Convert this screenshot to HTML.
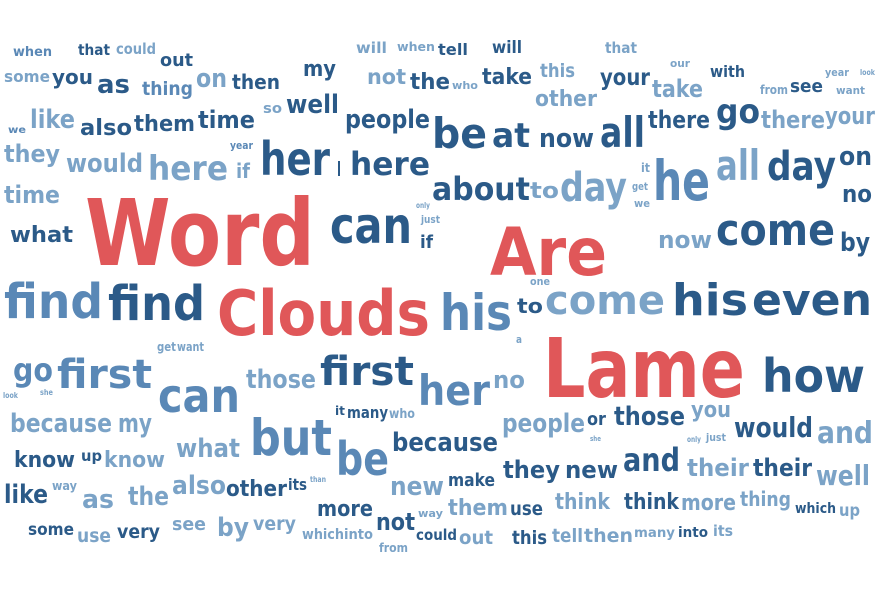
<!DOCTYPE html>
<html><head><meta charset="utf-8">
<style>
html,body{margin:0;padding:0;background:#fff;width:890px;height:605px;overflow:hidden}
svg text{font-family:"DejaVu Sans","Liberation Sans",sans-serif;font-weight:bold}
</style></head>
<body>
<svg id="cloud" width="890" height="605" viewBox="0 0 890 605" xmlns="http://www.w3.org/2000/svg"></svg>
<script>
// words: [text, left, baseline, fontSize, width, colorGroup]
const words = [
["when",13,56,13,39,"M"],["that",78,55,15,32,"D"],["could",116,54,15,40,"L"],["out",160,66,18,33,"D"],
["some",4,82,16,46,"L"],["you",52,84,20,41,"D"],["as",97,93,26,33,"D"],["thing",142,95,19,51,"M"],
["on",196,87,26,31,"L"],["then",232,89,20,48,"D"],["my",303,76,22,33,"D"],["not",367,84,21,39,"L"],
["the",410,89,22,40,"D"],["will",356,53,15,31,"L"],["when",397,51,12,38,"L"],["tell",438,55,16,30,"D"],
["we",8,133,10,18,"M"],["like",30,128,26,45,"L"],["also",80,135,22,52,"D"],["them",134,131,22,61,"D"],
["time",198,128,24,57,"D"],["so",263,113,14,19,"L"],["well",286,113,26,53,"D"],["people",345,128,26,85,"D"],
["be",432,148,42,55,"D"],["year",230,149,11,23,"M"],["they",4,162,24,56,"L"],["would",66,172,26,77,"L"],
["here",148,180,34,80,"L"],["if",236,178,20,14,"L"],["her",260,175,46,70,"D"],["I",337,176,20,4,"D"],
["here",350,175,32,80,"D"],["time",4,203,24,56,"L"],["Word",85,265,92,230,"R"],["can",330,243,50,82,"D"],
["what",10,242,22,63,"D"],["only",416,208,8,14,"L"],["just",421,223,11,19,"L"],["if",420,248,18,13,"D"],
["about",432,200,32,98,"D"],["to",530,198,22,29,"L"],["day",560,201,40,67,"L"],["it",641,172,12,9,"L"],
["get",632,190,11,16,"L"],["we",634,207,11,16,"L"],["he",653,200,55,57,"M"],["all",716,180,42,44,"L"],
["day",767,180,40,69,"D"],["on",839,165,26,33,"D"],["no",842,202,24,30,"D"],["come",716,245,44,119,"D"],
["now",658,248,24,54,"L"],["by",840,251,26,30,"D"],["Are",490,275,66,117,"R"],["one",530,285,11,20,"L"],
["at",492,147,34,38,"D"],["now",539,147,26,55,"D"],["all",600,147,42,45,"D"],["there",648,128,24,62,"D"],
["go",716,123,34,44,"D"],["there",761,128,24,64,"L"],["your",825,124,24,50,"L"],["other",535,106,22,62,"L"],
["this",540,77,19,35,"L"],["your",600,85,23,50,"D"],["take",652,97,24,51,"L"],["our",670,67,11,20,"L"],
["with",710,77,16,35,"D"],["that",605,53,15,32,"L"],["will",492,53,17,30,"D"],["take",482,84,22,50,"D"],
["who",452,89,11,26,"L"],["from",760,94,12,28,"L"],["see",790,92,18,33,"D"],["want",836,94,11,29,"L"],
["year",825,76,11,24,"L"],["look",860,75,8,15,"L"],
["find",4,318,48,99,"M"],["find",108,320,48,97,"D"],["Clouds",217,335,62,213,"R"],["his",440,330,50,72,"M"],
["to",517,313,20,26,"D"],["come",545,314,40,120,"L"],["his",672,315,44,76,"D"],["even",752,315,44,120,"D"],
["a",516,343,11,6,"L"],["get",157,351,12,19,"L"],["want",177,351,12,27,"L"],["go",13,381,32,40,"M"],
["first",57,388,40,95,"M"],["can",158,412,46,82,"M"],["look",3,398,8,15,"L"],["she",40,395,8,13,"L"],
["those",246,388,26,70,"L"],["first",320,385,40,94,"D"],["her",418,405,42,72,"M"],["no",493,388,24,32,"L"],
["Lame",543,397,82,202,"R"],["how",762,392,46,103,"D"],["it",335,415,12,10,"D"],["many",347,418,16,41,"D"],
["who",389,418,13,26,"L"],["because",10,432,26,102,"L"],["my",118,432,26,34,"L"],["what",176,457,26,64,"L"],
["but",250,455,50,82,"M"],["be",336,475,46,53,"M"],["because",392,451,26,106,"D"],["know",14,467,22,61,"D"],
["up",81,461,15,21,"D"],["know",104,467,22,61,"L"],["people",502,432,26,83,"L"],["or",587,425,18,19,"D"],
["she",590,441,7,11,"L"],["those",614,425,26,71,"D"],["you",691,417,22,40,"L"],["only",687,442,8,14,"L"],
["just",706,441,11,20,"L"],["would",734,437,28,79,"D"],["and",817,443,30,56,"L"],["make",448,486,18,47,"D"],
["they",503,478,24,57,"D"],["new",565,478,24,53,"D"],["and",623,471,32,57,"D"],["their",687,476,24,62,"L"],
["their",753,476,24,59,"D"],["well",816,485,28,54,"L"],["new",390,495,26,54,"L"],["like",4,503,26,44,"D"],
["way",52,490,12,25,"L"],["as",82,508,26,32,"L"],["the",128,505,26,41,"L"],["also",172,494,26,54,"L"],
["other",226,496,22,61,"D"],["its",288,490,16,19,"D"],["than",310,482,8,16,"L"],["more",317,516,22,56,"D"],
["some",28,535,17,46,"D"],["use",77,542,19,34,"L"],["very",117,538,19,43,"D"],["see",172,530,18,34,"L"],
["by",217,536,26,32,"L"],["very",253,530,19,43,"L"],["which",302,539,14,42,"L"],["into",344,539,14,29,"L"],
["not",376,530,24,39,"D"],["from",379,552,12,29,"L"],["could",416,540,15,41,"D"],["way",418,517,11,25,"L"],
["them",448,515,22,60,"L"],["use",510,515,19,33,"D"],["think",555,509,22,55,"L"],["think",624,509,22,55,"D"],
["more",681,510,22,55,"L"],["thing",740,506,20,51,"L"],["which",795,513,14,41,"D"],["up",839,516,17,21,"L"],
["out",459,544,19,34,"L"],["this",512,544,19,35,"D"],["tell",552,542,19,31,"L"],["then",584,542,19,49,"L"],
["many",634,537,13,41,"L"],["into",678,537,14,30,"D"],["its",713,536,15,20,"L"]
];
const palette = {R:"#e05759",D:"#2b5a88",M:"#5a88b6",L:"#7ba3c7"};
const svg = document.getElementById('cloud');
const NS = "http://www.w3.org/2000/svg";
words.forEach(w => {
  const t = document.createElementNS(NS,'text');
  t.setAttribute('x', w[1]);
  t.setAttribute('y', w[2]);
  t.setAttribute('font-size', w[3]);
  t.setAttribute('textLength', w[4]);
  t.setAttribute('lengthAdjust', 'spacingAndGlyphs');
  t.setAttribute('fill', palette[w[5]]);
  t.textContent = w[0];
  
  
  svg.appendChild(t);
});
</script>
</body></html>
